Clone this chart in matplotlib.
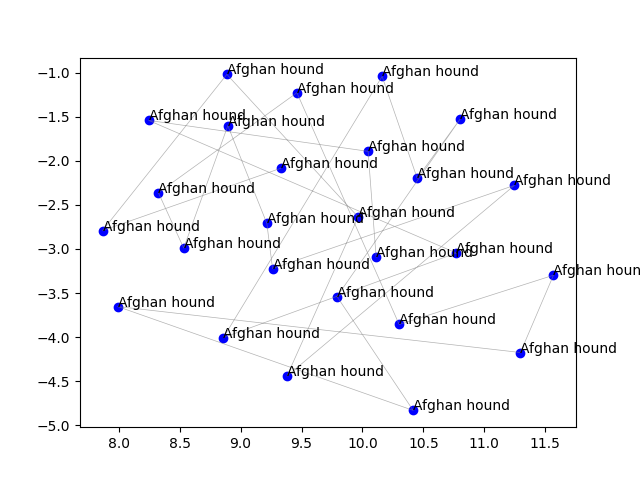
import numpy as np
import matplotlib as mpl
mpl.use('agg')
import matplotlib.pyplot as plt

# points in the order the connecting line visits them
xs = [9.328, 7.867, 8.887, 9.964, 9.380, 11.247, 9.262, 9.215, 8.895, 8.533,
      8.325, 9.462, 10.301, 11.567, 11.296, 7.990, 10.416, 9.791, 10.803, 10.449,
      10.161, 8.859, 10.770, 8.245, 10.046, 10.112]
ys = [-2.085, -2.791, -1.019, -2.637, -4.443, -2.278, -3.222, -2.709, -1.601, -2.990,
      -2.361, -1.227, -3.857, -3.298, -4.175, -3.653, -4.832, -3.540, -1.522, -2.198,
      -1.042, -4.005, -3.046, -1.541, -1.892, -3.094]
labels = ['Afghan hound'] * len(xs)

fig, ax = plt.subplots(figsize=(6.4, 4.8), dpi=100)
ax.plot(xs, ys, color='gray', linewidth=0.5, alpha=0.6)
ax.scatter(xs, ys, color='blue')
for lab, x, y in zip(labels, xs, ys):
    ax.annotate(lab, (x, y))

fig.savefig('out.png', dpi=100)
